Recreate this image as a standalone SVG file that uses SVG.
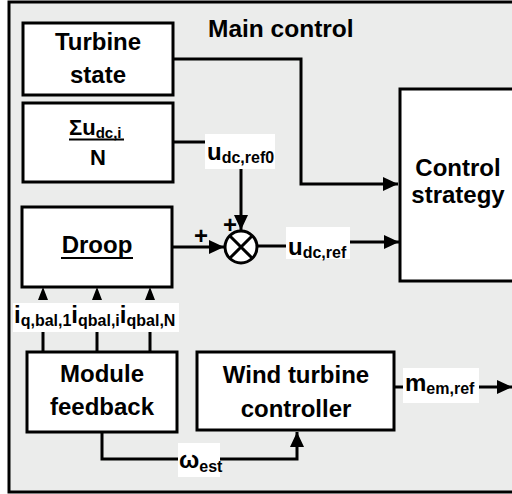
<svg xmlns="http://www.w3.org/2000/svg" width="512" height="494" viewBox="0 0 512 494">
<style>
.box{fill:#fff;stroke:#000;stroke-width:3}
.ln{fill:none;stroke:#000;stroke-width:3}
.t{font-family:"Liberation Sans",Arial,sans-serif;font-weight:bold;fill:#000;font-size:24px}
.m{text-anchor:middle}
.s{font-size:16px}
.lbl{fill:#fff;stroke:none}
</style>
<defs>
<marker id="arr" markerUnits="userSpaceOnUse" markerWidth="16" markerHeight="14" refX="15" refY="7" orient="auto">
<path d="M0,0 L15,7 L0,14 z" fill="#000"/>
</marker>
</defs>
<rect x="9" y="2" width="510" height="490" fill="#ebeceb" stroke="#000" stroke-width="3"/>
<text class="t" x="208" y="37" style="font-size:24.5px">Main control</text>

<g id="connectors">
<path class="ln" d="M173,59 H301 V184 H398" marker-end="url(#arr)"/>
<path class="ln" d="M173,142 H206"/>
<path class="ln" d="M241,169 V230" marker-end="url(#arr)"/>
<path class="ln" d="M172,247 H224" marker-end="url(#arr)"/>
<path class="ln" d="M257,246 H287"/>
<path class="ln" d="M350,242 H399" marker-end="url(#arr)"/>
<path d="M38,300 L43,287 L48,300 z M92,300 L97,287 L102,300 z M145,300 L150,287 L155,300 z" fill="#000"/>
<path class="ln" d="M43,332 V352 M97,332 V352 M150,332 V352"/>
<path class="ln" d="M102,432 V459 H297 V432" marker-end="url(#arr)"/>
<path class="ln" d="M394,387 H404"/>
<path class="ln" d="M479,387 H512" marker-end="url(#arr)"/>
</g>

<g id="turbine-state">
<rect class="box" x="23" y="23" width="150" height="72"/>
<text class="t m" x="98" y="50">Turbine</text>
<text class="t m" x="98" y="83">state</text>
</g>

<g id="avg">
<rect class="box" x="23" y="103" width="150" height="79"/>
<text class="t" x="69" y="135" style="font-size:22px">Σu<tspan class="s" dy="3" style="font-size:15px">dc,i</tspan></text>
<line x1="69" y1="139.5" x2="124" y2="139.5" stroke="#000" stroke-width="2"/>
<text class="t m" x="98" y="165" style="font-size:22px">N</text>
</g>

<g id="droop">
<rect class="box" x="22" y="207" width="150" height="80"/>
<text class="t m" x="97" y="253">Droop</text>
<line x1="61" y1="258" x2="133" y2="258" stroke="#000" stroke-width="2"/>
</g>

<g id="control-strategy">
<rect class="box" x="400" y="89" width="120" height="192"/>
<text class="t m" x="458" y="176">Control</text>
<text class="t m" x="458" y="203">strategy</text>
</g>

<g id="sum">
<circle cx="241" cy="247" r="16" fill="#fff" stroke="#000" stroke-width="3"/>
<path class="ln" d="M229.7,235.7 L252.3,258.3 M252.3,235.7 L229.7,258.3"/>
<text class="t m" x="201" y="244" style="font-size:24px">+</text>
<text class="t m" x="230" y="233" style="font-size:24px">+</text>
</g>

<g id="label-udcref0">
<rect class="lbl" x="205" y="134" width="70" height="35"/>
<text class="t" x="207" y="160">u<tspan class="s" dy="3">dc,ref0</tspan></text>
</g>

<g id="label-udcref">
<rect class="lbl" x="286" y="227" width="64" height="32"/>
<text class="t" x="288" y="255">u<tspan class="s" dy="3">dc,ref</tspan></text>
</g>

<g id="label-iq">
<rect class="lbl" x="13" y="303" width="166" height="29"/>
<text class="t" x="14" y="323">i<tspan class="s" dy="3">q,bal,1</tspan><tspan dy="-3">i</tspan><tspan class="s" dy="3">qbal,i</tspan><tspan dy="-3">i</tspan><tspan class="s" dy="3">qbal,N</tspan></text>
</g>

<g id="module-feedback">
<rect class="box" x="27" y="352" width="150" height="80"/>
<text class="t m" x="102" y="382">Module</text>
<text class="t m" x="102" y="415">feedback</text>
</g>

<g id="wind-turbine-controller">
<rect class="box" x="197" y="352" width="197" height="78"/>
<text class="t m" x="296" y="383">Wind turbine</text>
<text class="t m" x="296" y="417">controller</text>
</g>

<g id="label-west">
<rect class="lbl" x="178" y="443" width="42" height="34"/>
<text class="t" x="179" y="468" >ω<tspan class="s" dy="4">est</tspan></text>
</g>

<g id="label-mem">
<rect class="lbl" x="403" y="368" width="76" height="35"/>
<text class="t" x="405" y="391">m<tspan class="s" dy="3">em,ref</tspan></text>
</g>
</svg>
